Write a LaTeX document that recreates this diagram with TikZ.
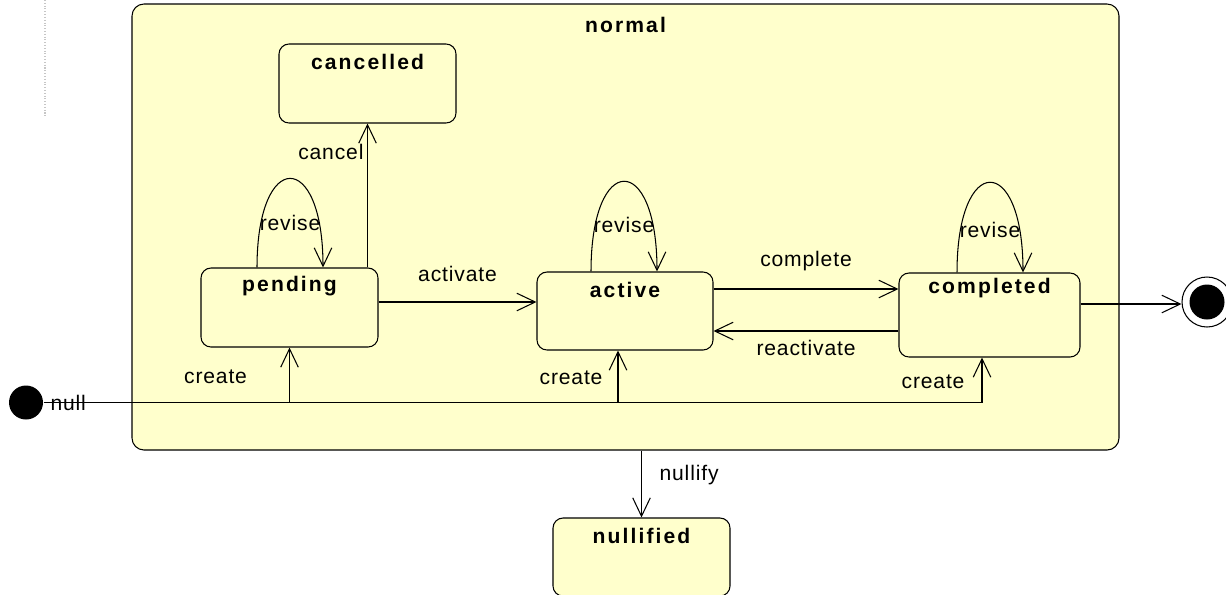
\documentclass[tikz,border=0pt]{standalone}
\usepackage{fontspec}
\setmainfont{Liberation Sans}
\newfontfamily\statefont[LetterSpace=10]{Liberation Sans}
\newfontfamily\labelfont[LetterSpace=4]{Liberation Sans}
\usetikzlibrary{arrows.meta,positioning}
\definecolor{stateyellow}{HTML}{FFFFCC}

\tikzset{
  state/.style={draw, rounded corners=0.2cm, fill=stateyellow, minimum width=3.54cm, minimum height=1.58cm, inner sep=0pt},
  namefont/.style={font=\statefont\bfseries\fontsize{12}{14}\selectfont},
  statename/.style={namefont, anchor=center, yshift=-0.37cm},
  lbl/.style={font=\labelfont\fontsize{12}{14}\selectfont, inner sep=2pt},
  trans/.style={-{Straight Barb[length=10.5pt,width=10pt]}},
}

\begin{document}
\begin{tikzpicture}[line width=0.6pt]
\useasboundingbox (0,0) rectangle (24.52,-11.88);

% faint trace at the left margin
\draw[gray!45, densely dotted] (0.9,0) -- (0.9,-2.36);

% Composite state
\node[draw, rounded corners=0.24cm, fill=stateyellow, minimum width=19.74cm, minimum height=8.92cm,
  label={[statename, yshift=-0.05cm]north:normal}] (normal) at (12.51,-4.54) {};

% States
\node[state, label={[statename]north:cancelled}] (cancelled) at (7.35,-1.67) {};
\node[state, label={[statename]north:pending}] (pending) at (5.79,-6.15) {};
\node[state, minimum width=3.52cm, minimum height=1.56cm, label={[statename]north:active}] (active) at (12.5,-6.22) {};
\node[state, minimum width=3.62cm, minimum height=1.68cm, label={[statename, yshift=0.05cm]north:completed}] (completed) at (19.79,-6.3) {};
\node[state, minimum height=1.56cm, label={[statename]north:nullified}] (nullified) at (12.83,-11.14) {};

% Initial and final pseudo states
\node[circle, fill=black, minimum size=0.68cm, inner sep=0pt] (init) at (0.52,-8.05) {};
\node[circle, draw, minimum size=1cm, inner sep=0pt] (fin) at (24.14,-6.04) {};
\fill (fin) circle (0.35cm);

% Creation from the initial state
\draw[line width=1.1pt] (init) -- (init -| pending.south);
\draw ([xshift=-0.15cm]init -| completed.south) -- (init -| pending.south);
\node[lbl, right=0.06cm of init] (nulltxt) {null};
\draw[trans] (init -| pending.south) -- node[lbl, pos=0.46, left=0.77cm] {create} (pending.south);
\draw[trans] ([xshift=-0.14cm]init -| active.south) -- node[lbl, pos=0.47, left=0.23cm] {create} ([xshift=-0.14cm]active.south);
\draw[trans] ([xshift=-0.15cm]init -| completed.south) -- node[lbl, pos=0.45, left=0.27cm] {create} ([xshift=-0.15cm]completed.south);

% Cancel
\draw[trans] (cancelled.south |- pending.north) -- node[lbl, pos=0.8, left] {cancel} (cancelled.south);

% Revise loops
\draw[trans] ([xshift=-0.65cm]pending.north) to[out=90, in=90, distance=2.37cm] node[lbl, midway, yshift=-0.88cm] {revise} ([xshift=0.67cm]pending.north);
\draw[trans] ([xshift=-0.68cm]active.north) to[out=90, in=90, distance=2.4cm] node[lbl, midway, yshift=-0.86cm] {revise} ([xshift=0.64cm]active.north);
\draw[trans] ([xshift=-0.65cm]completed.north) to[out=90, in=90, distance=2.4cm] node[lbl, midway, yshift=-0.94cm] {revise} ([xshift=0.67cm]completed.north);

% Between the states
\draw[trans] ([yshift=0.11cm]pending.east) -- node[lbl, above=9pt] {activate} ([yshift=0.11cm]pending.east -| active.west);
\draw[trans] ([yshift=0.44cm]active.east) -- node[lbl, above=8pt] {complete} ([yshift=0.44cm]active.east -| completed.west);
\draw[trans] ([yshift=-0.4cm]active.east -| completed.west) -- node[lbl, below=2.7pt] {reactivate} ([yshift=-0.4cm]active.east);
\draw[trans] ([yshift=0.22cm]completed.east) -- ([yshift=0.22cm]completed.east -| fin.west);

% Nullify
\draw[trans] (nullified.north |- normal.south) -- node[lbl, pos=0.37, right=8pt] {nullify} (nullified.north);

\end{tikzpicture}
\end{document}
